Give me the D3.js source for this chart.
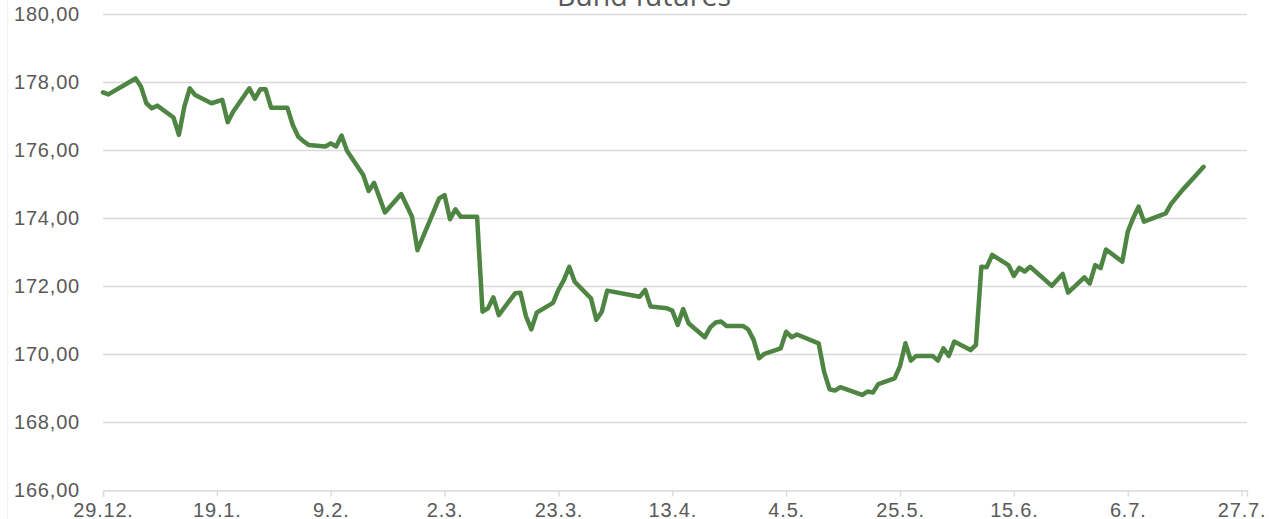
<!DOCTYPE html>
<html>
<head>
<meta charset="utf-8">
<script src="https://cdnjs.cloudflare.com/ajax/libs/d3/7.8.5/d3.min.js"></script>
<style>
  html, body { margin: 0; padding: 0; background: #fff; }
  svg { display: block; }
</style>
</head>
<body>
<svg id="chart" width="1269" height="519"></svg>
<script>
const title = "Bund futures";
const dates = [
  "2020-12-29","2020-12-30","2021-01-04","2021-01-05","2021-01-06","2021-01-07","2021-01-08",
  "2021-01-11","2021-01-12","2021-01-13","2021-01-14","2021-01-15","2021-01-18","2021-01-20",
  "2021-01-21","2021-01-22","2021-01-25","2021-01-26","2021-01-27","2021-01-28","2021-01-29",
  "2021-02-01","2021-02-02","2021-02-03","2021-02-04","2021-02-05","2021-02-08","2021-02-09",
  "2021-02-10","2021-02-11","2021-02-12","2021-02-15","2021-02-16","2021-02-17","2021-02-19",
  "2021-02-22","2021-02-24","2021-02-25","2021-03-01","2021-03-02","2021-03-03","2021-03-04",
  "2021-03-05","2021-03-08","2021-03-09","2021-03-10","2021-03-11","2021-03-12","2021-03-15",
  "2021-03-16","2021-03-17","2021-03-18","2021-03-19","2021-03-22","2021-03-23","2021-03-24",
  "2021-03-25","2021-03-26","2021-03-29","2021-03-30","2021-03-31","2021-04-01","2021-04-07",
  "2021-04-08","2021-04-09","2021-04-12","2021-04-13","2021-04-14","2021-04-15","2021-04-16",
  "2021-04-19","2021-04-20","2021-04-21","2021-04-22","2021-04-23","2021-04-26","2021-04-27",
  "2021-04-28","2021-04-29","2021-04-30","2021-05-03","2021-05-04","2021-05-05","2021-05-06",
  "2021-05-10","2021-05-11","2021-05-12","2021-05-13","2021-05-14","2021-05-18","2021-05-19",
  "2021-05-20","2021-05-21","2021-05-24","2021-05-25","2021-05-26","2021-05-27","2021-05-28",
  "2021-05-31","2021-06-01","2021-06-02","2021-06-03","2021-06-04","2021-06-07","2021-06-08",
  "2021-06-09","2021-06-10","2021-06-11","2021-06-14","2021-06-15","2021-06-16","2021-06-17",
  "2021-06-18","2021-06-22","2021-06-24","2021-06-25","2021-06-28","2021-06-29","2021-06-30",
  "2021-07-01","2021-07-02","2021-07-05","2021-07-06","2021-07-07","2021-07-08","2021-07-09",
  "2021-07-13","2021-07-14","2021-07-16","2021-07-20"
];
const values = [
  177.68,177.62,178.09,177.85,177.36,177.21,177.29,
  176.94,176.43,177.26,177.80,177.60,177.36,177.46,
  176.80,177.11,177.80,177.49,177.77,177.77,177.23,
  177.23,176.72,176.38,176.24,176.13,176.09,176.18,
  176.09,176.41,175.96,175.25,174.78,175.02,174.15,
  174.69,174.02,173.04,174.56,174.66,173.95,174.24,
  174.02,174.02,171.23,171.33,171.65,171.13,171.77,
  171.79,171.10,170.71,171.20,171.49,171.87,172.16,
  172.55,172.11,171.62,170.99,171.23,171.85,171.67,
  171.87,171.38,171.33,171.26,170.84,171.31,170.89,
  170.48,170.77,170.91,170.94,170.81,170.81,170.71,
  170.40,169.86,169.99,170.15,170.64,170.48,170.56,
  170.30,169.46,168.95,168.91,169.01,168.78,168.88,
  168.85,169.10,169.27,169.63,170.30,169.79,169.93,
  169.93,169.79,170.15,169.93,170.35,170.10,170.25,
  172.55,172.54,172.90,172.60,172.28,172.52,172.41,
  172.55,171.99,172.34,171.79,172.24,172.06,172.60,
  172.51,173.06,172.70,173.58,173.98,174.32,173.88,
  174.12,174.40,174.79,175.49
];
const xTickDates = ["2020-12-29","2021-01-19","2021-02-09","2021-03-02","2021-03-23","2021-04-13",
  "2021-05-04","2021-05-25","2021-06-15","2021-07-06","2021-07-27"];
const yTicks = [166,168,170,172,174,176,178,180];
const xDomain = ["2020-12-29","2021-07-28"];
const yDomain = [166,180];

(function () {
const parse = d3.utcParse("%Y-%m-%d");
const data = dates.map((d,i) => ({date: parse(d), value: values[i]}));

const svg = d3.select("#chart");
const pLeft = 103, pRight = 1247, pTop = 13.5, pBottom = 489.5;

const x = d3.scaleUtc().domain(xDomain.map(parse)).range([pLeft, pRight]);
const y = d3.scaleLinear().domain(yDomain).range([pBottom, pTop]);

// faint chart border on left
svg.append("line").attr("x1",7.5).attr("x2",7.5).attr("y1",0).attr("y2",519)
  .attr("stroke","#f0f0f0").attr("stroke-width",1);

// gridlines
svg.append("g").selectAll("line").data(yTicks.filter(t => t !== 166)).join("line")
  .attr("x1", pLeft).attr("x2", pRight)
  .attr("y1", d => Math.round(y(d)) + 0.5).attr("y2", d => Math.round(y(d)) + 0.5)
  .attr("stroke", "#d9d9d9").attr("stroke-width", 1.3);

// y labels
svg.append("g").selectAll("text").data(yTicks).join("text")
  .attr("x", 80).attr("y", d => y(d) + 7)
  .attr("text-anchor", "end")
  .attr("font-family", "Liberation Sans, Arial, sans-serif")
  .attr("font-size", 20).attr("letter-spacing", 0.8)
  .attr("fill", "#595959")
  .text(d => d3.format(".2f")(d).replace(".", ","));

// x axis
const xAxis = d3.axisBottom(x)
  .tickValues(xTickDates.map(parse))
  .tickSize(6)
  .tickFormat(d3.utcFormat("%-d.%-m."));
const gx = svg.append("g").attr("transform", `translate(0,${Math.round(pBottom)+0.5})`).call(xAxis);
gx.select(".domain").attr("stroke", "#d9d9d9").attr("stroke-width", 1.3);
gx.selectAll(".tick line").attr("stroke", "#d9d9d9").attr("stroke-width", 1.3);
gx.selectAll(".tick text")
  .attr("y", 12).attr("dy", "0.71em")
  .attr("font-family", "Liberation Sans, Arial, sans-serif")
  .attr("font-size", 20).attr("letter-spacing", 0.8)
  .attr("fill", "#595959");

// line
const line = d3.line().x(d => x(d.date)).y(d => y(d.value)).curve(d3.curveLinear);
svg.append("path").datum(data)
  .attr("d", line)
  .attr("fill", "none")
  .attr("stroke", "#4e8542")
  .attr("stroke-width", 4.5)
  .attr("stroke-linejoin", "round")
  .attr("stroke-linecap", "round");

// title (top partly cut off, as in the reference)
svg.append("text")
  .attr("x", 644).attr("y", 6)
  .attr("text-anchor", "middle")
  .attr("font-family", "Open Sans, sans-serif")
  .attr("font-size", 28.5)
  .attr("fill", "#595959")
  .text(title);
})();
</script>
</body>
</html>
